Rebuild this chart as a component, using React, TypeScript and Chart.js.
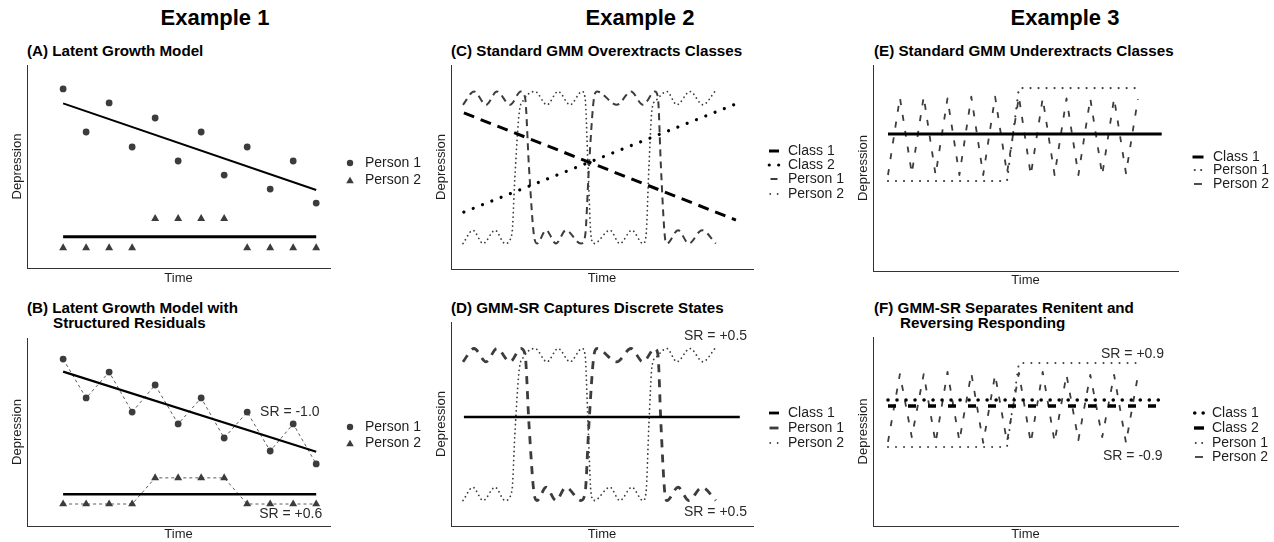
import React, { useEffect, useRef } from "react";
import { Chart, registerables } from "chart.js";

Chart.register(...registerables);

const FONT = '"Liberation Sans", Arial, Helvetica, sans-serif';
Chart.defaults.font.family = FONT;

const INK = "#000000";
const GREY = "#3c3c3c";
const TEXT = "#1e1e1e";
const AXIS = "#333333";

// ---------------- Example 1 data ----------------
const ex1Time = [1, 2, 3, 4, 5, 6, 7, 8, 9, 10, 11, 12];
const ex1TrendTime = [1, 12];
const aPerson1 = [88.2, 67.0, 81.3, 59.6, 73.9, 52.7, 67.0, 45.8, 59.6, 38.9, 52.7, 32.0];
const aPerson2 = [9.9, 9.9, 9.9, 9.9, 24.3, 24.3, 24.3, 24.3, 9.9, 9.9, 9.9, 9.9];
const aTrendP1 = [81.1, 38.4];
const aTrendP2 = [15.4, 15.4];
const bPerson1 = [88.8, 68.1, 81.9, 60.6, 75.0, 54.3, 68.1, 46.8, 60.6, 39.9, 54.3, 33.0];
const bPerson2 = [11.7, 11.7, 11.7, 11.7, 25.6, 25.6, 25.6, 25.6, 11.7, 11.7, 11.7, 11.7];
const bTrendP1 = [82.1, 39.5];
const bTrendP2 = [16.9, 16.9];

// ---------------- Example 2 data ----------------
const ex2P1Time = [4.0, 7.7, 11.7, 15.3, 19.7, 23.3, 24.7, 26.0, 27.7, 28.7, 31.7, 35.0, 38.3, 43.3, 44.7, 46.0, 47.7, 48.7, 55.3, 60.0, 64.0, 68.0, 69.0, 70.0, 71.3, 72.0, 75.7, 79.3, 83.7, 88.3];
const ex2Person1 = [80.5, 87, 80.5, 87, 80.5, 87, 84, 50, 16, 12.5, 19, 12.5, 19, 12.5, 16, 50, 84, 87, 80.5, 87, 80.5, 87, 84, 50, 16, 12.5, 19, 12.5, 19, 12.5];
const ex2P2Time = [4.0, 7.3, 10.7, 14.7, 18.0, 20.3, 21.3, 22.7, 24.3, 28.0, 32.0, 35.7, 39.7, 43.7, 44.7, 45.7, 46.7, 47.7, 53.0, 56.3, 60.3, 64.0, 65.0, 66.0, 67.0, 68.3, 72.0, 75.3, 79.7, 84.0, 88.0];
const ex2Person2 = [12.5, 19, 12.5, 19, 12.5, 17, 45, 76, 83, 87, 80.5, 87, 80.5, 87, 84, 50, 16, 12.5, 19, 12.5, 19, 12.5, 16, 50, 78, 82.5, 87, 80.5, 87, 80.5, 87];
const ex2ClassTimeC = [4.3, 95.0];
const cClass1 = [76.5, 24.0];
const cClass2 = [27.9, 80.9];
const ex2ClassTimeD = [4.3, 96.3];
const dClass1 = [53.4, 53.4];

// ---------------- Example 3 data ----------------
const ex3Time = [1, 2, 3, 4, 5, 6, 7, 8, 9, 10, 11, 12, 13, 14, 15, 16, 17, 18, 19, 20, 21, 22];
const ex3ClassTime = [1, 24];
const ePerson1 = [43.7, 43.7, 43.7, 43.7, 43.7, 43.7, 43.7, 43.7, 43.7, 43.7, 43.7, 88.8, 88.8, 88.8, 88.8, 88.8, 88.8, 88.8, 88.8, 88.8, 88.8, 88.8];
const ePerson2 = [46.6, 84.2, 47.4, 84.6, 46.6, 83.8, 46.6, 84.6, 46.6, 84.6, 47.4, 84.6, 46.6, 83.8, 46.6, 83.8, 46.6, 83.8, 46.6, 83.8, 47.4, 83.4];
const eClass1 = [66.5, 66.5];
const fPerson1 = [41.8, 41.8, 41.8, 41.8, 41.8, 41.8, 41.8, 41.8, 41.8, 41.8, 41.8, 86.2, 86.2, 86.2, 86.2, 86.2, 86.2, 86.2, 86.2, 86.2, 86.2, 86.2];
const fPerson2 = [44.5, 80.4, 47.0, 80.4, 44.0, 81.5, 45.0, 80.9, 44.0, 80.0, 44.5, 81.0, 44.0, 81.5, 44.5, 80.0, 45.5, 80.0, 47.0, 80.0, 44.0, 79.5];
const fClass1 = [66.7, 66.7];
const fClass2 = [63.5, 63.5];

// ---------------- text ----------------
const columnTitles = ["Example 1", "Example 2", "Example 3"];
const srLabels = ["SR = -1.0", "SR = +0.6", "SR = +0.5", "SR = +0.5", "SR = +0.9", "SR = -0.9"];

type LegendItem = {
  label: string;
  kind: "circle" | "triangle" | "line";
  r?: number;
  width?: number;
  dash?: number[];
  cap?: CanvasLineCap;
  len?: number;
  color: string;
};
type Note = { x: number; y: number; text: string };
type PanelSpec = {
  canvas: { left: number; top: number; width: number; height: number };
  area: { left: number; top: number; right: number; bottom: number };
  xRange: [number, number];
  yTitlePad: number;
  xTitlePad: number;
  datasets: any[];
  legend: { symX: number; textX: number; rows: number[]; items: LegendItem[] };
  notes: Note[];
};

const pairs = (xs: number[], ys: number[]) => xs.map((x, i) => ({ x, y: ys[i] }));

function lineSet(label: string, xs: number[], ys: number[], style: any) {
  return {
    label,
    data: pairs(xs, ys),
    showLine: true,
    pointRadius: 0,
    pointHoverRadius: 0,
    fill: false,
    borderJoinStyle: "round",
    ...style,
  };
}

function markerSet(label: string, xs: number[], ys: number[], shape: string, radius: number, connect: boolean) {
  return {
    label,
    data: pairs(xs, ys),
    showLine: connect,
    borderColor: "#5a5a5a",
    borderWidth: 1,
    borderDash: [3, 3],
    pointStyle: shape,
    pointRadius: radius,
    pointHoverRadius: radius,
    pointBackgroundColor: GREY,
    pointBorderColor: GREY,
    pointBorderWidth: 0,
  };
}

const personMarkerLegend: LegendItem[] = [
  { label: "Person 1", kind: "circle", r: 3.2, color: GREY },
  { label: "Person 2", kind: "triangle", r: 4.4, color: GREY },
];

const panels: PanelSpec[] = [
  // (A)
  {
    canvas: { left: 0, top: 55, width: 425, height: 235 },
    area: { left: 27, top: 65, right: 330, bottom: 268 },
    xRange: [-0.57, 12.6],
    yTitlePad: 9.7,
    xTitlePad: 4,
    datasets: [
      lineSet("Person 1 trend", ex1TrendTime, aTrendP1, { borderColor: INK, borderWidth: 2 }),
      lineSet("Person 2 trend", ex1TrendTime, aTrendP2, { borderColor: INK, borderWidth: 3 }),
      markerSet("Person 1", ex1Time, aPerson1, "circle", 3.4, false),
      markerSet("Person 2", ex1Time, aPerson2, "triangle", 4.6, false),
    ],
    legend: { symX: 350, textX: 365, rows: [163, 180], items: personMarkerLegend },
    notes: [],
  },
  // (B)
  {
    canvas: { left: 0, top: 300, width: 425, height: 242 },
    area: { left: 27, top: 338, right: 330, bottom: 526 },
    xRange: [-0.57, 12.6],
    yTitlePad: 9.7,
    xTitlePad: 0,
    datasets: [
      lineSet("Person 1 trend", ex1TrendTime, bTrendP1, { borderColor: INK, borderWidth: 2.2 }),
      lineSet("Person 2 trend", ex1TrendTime, bTrendP2, { borderColor: INK, borderWidth: 2.6 }),
      markerSet("Person 1", ex1Time, bPerson1, "circle", 3.4, true),
      markerSet("Person 2", ex1Time, bPerson2, "triangle", 4.6, true),
    ],
    legend: { symX: 350, textX: 365, rows: [427, 443], items: personMarkerLegend },
    notes: [
      { x: 9.56, y: 60.4, text: srLabels[0] },
      { x: 9.52, y: 6.4, text: srLabels[1] },
    ],
  },
  // (C)
  {
    canvas: { left: 425, top: 55, width: 425, height: 235 },
    area: { left: 451, top: 65, right: 753, bottom: 269 },
    xRange: [0, 100.7],
    yTitlePad: 8.2,
    xTitlePad: 4,
    datasets: [
      lineSet("Class 1", ex2ClassTimeC, cClass1, { borderColor: INK, borderWidth: 3, borderDash: [11, 7] }),
      lineSet("Class 2", ex2ClassTimeC, cClass2, { borderColor: INK, borderWidth: 3.2, borderDash: [0.01, 10], borderCapStyle: "round" }),
      lineSet("Person 1", ex2P1Time, ex2Person1, { borderColor: GREY, borderWidth: 2, borderDash: [7, 5], cubicInterpolationMode: "monotone" }),
      lineSet("Person 2", ex2P2Time, ex2Person2, { borderColor: GREY, borderWidth: 1.8, borderDash: [0.01, 4.5], borderCapStyle: "round", cubicInterpolationMode: "monotone" }),
    ],
    legend: {
      symX: 774,
      textX: 788,
      rows: [151, 165, 179, 194],
      items: [
        { label: "Class 1", kind: "line", width: 3, len: 10, color: INK },
        { label: "Class 2", kind: "line", width: 3.2, len: 9.5, dash: [0.01, 9.4], cap: "round", color: INK },
        { label: "Person 1", kind: "line", width: 2, len: 7, color: GREY },
        { label: "Person 2", kind: "line", width: 1.8, len: 7.5, dash: [0.01, 7.4], cap: "round", color: GREY },
      ],
    },
    notes: [],
  },
  // (D)
  {
    canvas: { left: 425, top: 300, width: 425, height: 242 },
    area: { left: 451, top: 322, right: 753, bottom: 526 },
    xRange: [0, 100.7],
    yTitlePad: 8.2,
    xTitlePad: 0,
    datasets: [
      lineSet("Class 1", ex2ClassTimeD, dClass1, { borderColor: INK, borderWidth: 2.5 }),
      lineSet("Person 1", ex2P1Time, ex2Person1, { borderColor: GREY, borderWidth: 2.8, borderDash: [8, 7], cubicInterpolationMode: "monotone" }),
      lineSet("Person 2", ex2P2Time, ex2Person2, { borderColor: GREY, borderWidth: 1.8, borderDash: [0.01, 4.5], borderCapStyle: "round", cubicInterpolationMode: "monotone" }),
    ],
    legend: {
      symX: 774,
      textX: 788,
      rows: [413, 428, 443],
      items: [
        { label: "Class 1", kind: "line", width: 2.8, len: 10, color: INK },
        { label: "Person 1", kind: "line", width: 2.8, len: 9, color: GREY },
        { label: "Person 2", kind: "line", width: 1.8, len: 7.5, dash: [0.01, 7.4], cap: "round", color: GREY },
      ],
    },
    notes: [
      { x: 77.7, y: 93.1, text: srLabels[2] },
      { x: 77.7, y: 6.9, text: srLabels[3] },
    ],
  },
  // (E)
  {
    canvas: { left: 850, top: 55, width: 424, height: 235 },
    area: { left: 873, top: 65, right: 1178, bottom: 271 },
    xRange: [-0.26, 25.37],
    yTitlePad: 5.2,
    xTitlePad: 2,
    datasets: [
      lineSet("Class 1", ex3ClassTime, eClass1, { borderColor: INK, borderWidth: 3 }),
      lineSet("Person 1", ex3Time, ePerson1, { borderColor: GREY, borderWidth: 2.2, borderDash: [0.01, 8], borderCapStyle: "round" }),
      lineSet("Person 2", ex3Time, ePerson2, { borderColor: GREY, borderWidth: 1.8, borderDash: [6, 10] }),
    ],
    legend: {
      symX: 1198,
      textX: 1213,
      rows: [157, 170, 184],
      items: [
        { label: "Class 1", kind: "line", width: 3, len: 11, color: INK },
        { label: "Person 1", kind: "line", width: 2.2, len: 6.5, dash: [0.01, 6.4], cap: "round", color: GREY },
        { label: "Person 2", kind: "line", width: 1.8, len: 8, color: GREY },
      ],
    },
    notes: [],
  },
  // (F)
  {
    canvas: { left: 850, top: 300, width: 424, height: 242 },
    area: { left: 873, top: 337, right: 1178, bottom: 526 },
    xRange: [-0.26, 25.37],
    yTitlePad: 5.2,
    xTitlePad: 0,
    datasets: [
      lineSet("Class 1", ex3ClassTime, fClass1, { borderColor: INK, borderWidth: 3.6, borderDash: [0.01, 9], borderCapStyle: "round" }),
      lineSet("Class 2", ex3ClassTime, fClass2, { borderColor: INK, borderWidth: 3.6, borderDash: [8, 12] }),
      lineSet("Person 1", ex3Time, fPerson1, { borderColor: GREY, borderWidth: 2, borderDash: [0.01, 8], borderCapStyle: "round" }),
      lineSet("Person 2", ex3Time, fPerson2, { borderColor: GREY, borderWidth: 1.8, borderDash: [6, 10] }),
    ],
    legend: {
      symX: 1199,
      textX: 1212,
      rows: [413, 428, 443, 457],
      items: [
        { label: "Class 1", kind: "line", width: 3.6, len: 8.5, dash: [0.01, 8.4], cap: "round", color: INK },
        { label: "Class 2", kind: "line", width: 3.4, len: 10, color: INK },
        { label: "Person 1", kind: "line", width: 2, len: 6.5, dash: [0.01, 6.4], cap: "round", color: GREY },
        { label: "Person 2", kind: "line", width: 1.8, len: 8, color: GREY },
      ],
    },
    notes: [
      { x: 18.9, y: 91.0, text: srLabels[4] },
      { x: 19.07, y: 36.8, text: srLabels[5] },
    ],
  },
];

function legendPlugin(p: PanelSpec) {
  return {
    id: "sketchLegend",
    afterDraw(chart: any) {
      const ctx: CanvasRenderingContext2D = chart.ctx;
      const { legend, canvas } = p;
      ctx.save();
      legend.items.forEach((it, i) => {
        const y = legend.rows[i] - canvas.top;
        const cx = legend.symX - canvas.left;
        ctx.fillStyle = it.color;
        ctx.strokeStyle = it.color;
        if (it.kind === "circle") {
          ctx.beginPath();
          ctx.arc(cx, y, it.r || 3, 0, Math.PI * 2);
          ctx.fill();
        } else if (it.kind === "triangle") {
          const r = it.r || 4;
          ctx.beginPath();
          ctx.moveTo(cx, y - r * 0.75);
          ctx.lineTo(cx + r * 0.866, y + r * 0.75);
          ctx.lineTo(cx - r * 0.866, y + r * 0.75);
          ctx.closePath();
          ctx.fill();
        } else {
          const len = it.len || 10;
          ctx.lineWidth = it.width || 1;
          ctx.setLineDash(it.dash || []);
          ctx.lineCap = it.cap || "butt";
          ctx.beginPath();
          ctx.moveTo(cx - len / 2, y);
          ctx.lineTo(cx + len / 2, y);
          ctx.stroke();
          ctx.setLineDash([]);
        }
        ctx.fillStyle = TEXT;
        ctx.font = `14px ${FONT}`;
        ctx.textBaseline = "middle";
        ctx.textAlign = "left";
        ctx.fillText(it.label, legend.textX - canvas.left, y);
      });
      ctx.restore();
    },
  };
}

function notesPlugin(p: PanelSpec) {
  return {
    id: "sketchNotes",
    afterDatasetsDraw(chart: any) {
      const ctx: CanvasRenderingContext2D = chart.ctx;
      const xs = chart.scales.x;
      const ys = chart.scales.y;
      ctx.save();
      ctx.fillStyle = "#2a2a2a";
      ctx.font = `14px ${FONT}`;
      ctx.textBaseline = "middle";
      ctx.textAlign = "left";
      p.notes.forEach((n) => {
        ctx.fillText(n.text, xs.getPixelForValue(n.x), ys.getPixelForValue(n.y));
      });
      ctx.restore();
    },
  };
}

function buildConfig(p: PanelSpec): any {
  const c = p.canvas;
  const a = p.area;
  const wy = a.left - c.left;
  const padTop = a.top - c.top;
  const padRight = c.left + c.width - a.right;
  const hx = c.top + c.height - a.bottom;
  const axisFont = { family: FONT, size: 13, lineHeight: 1.2 };
  return {
    type: "scatter",
    data: { datasets: p.datasets },
    options: {
      responsive: false,
      animation: false,
      events: [],
      layout: { padding: { left: 0, top: padTop, right: padRight, bottom: 0 } },
      plugins: { legend: { display: false }, tooltip: { enabled: false }, title: { display: false } },
      scales: {
        x: {
          type: "linear",
          min: p.xRange[0],
          max: p.xRange[1],
          ticks: { display: false },
          grid: { display: false, drawTicks: false },
          border: { display: true, color: AXIS, width: 1 },
          title: { display: true, text: "Time", color: TEXT, font: axisFont, padding: { top: 0, bottom: p.xTitlePad } },
          afterFit: (s: any) => {
            s.height = hx;
          },
        },
        y: {
          type: "linear",
          min: 0,
          max: 100,
          ticks: { display: false },
          grid: { display: false, drawTicks: false },
          border: { display: true, color: AXIS, width: 1 },
          title: { display: true, text: "Depression", color: TEXT, font: axisFont, padding: { top: p.yTitlePad, bottom: 0 } },
          afterFit: (s: any) => {
            s.width = wy;
          },
        },
      },
    },
    plugins: [legendPlugin(p), notesPlugin(p)],
  };
}

function Panel({ spec }: { spec: PanelSpec }) {
  const ref = useRef<HTMLCanvasElement>(null);
  useEffect(() => {
    if (!ref.current) return;
    const chart = new Chart(ref.current, buildConfig(spec));
    return () => chart.destroy();
  }, [spec]);
  const c = spec.canvas;
  return (
    <div style={{ position: "absolute", left: c.left, top: c.top, width: c.width, height: c.height }}>
      <canvas ref={ref} width={c.width} height={c.height} style={{ display: "block" }} />
    </div>
  );
}

const panelTitles: { text: string; left: number; top: number }[] = [
  { text: "(A) Latent Growth Model", left: 27, top: 43 },
  { text: "(B) Latent Growth Model with", left: 27, top: 300 },
  { text: "Structured Residuals", left: 53, top: 315 },
  { text: "(C) Standard GMM Overextracts Classes", left: 451, top: 43 },
  { text: "(D) GMM-SR Captures Discrete States", left: 451, top: 300 },
  { text: "(E) Standard GMM Underextracts Classes", left: 874, top: 43 },
  { text: "(F) GMM-SR Separates Renitent and", left: 874, top: 300 },
  { text: "Reversing Responding", left: 900, top: 315 },
];

const columnCenters = [215, 640, 1065];

export default function App() {
  return (
    <div
      style={{
        position: "absolute",
        left: 0,
        top: 0,
        width: 1274,
        height: 542,
        background: "#ffffff",
        overflow: "hidden",
        fontFamily: FONT,
      }}
    >
      {columnTitles.map((t, i) => (
        <div
          key={t}
          style={{
            position: "absolute",
            left: columnCenters[i] - 120,
            width: 240,
            top: 7,
            textAlign: "center",
            font: `bold 22px ${FONT}`,
            lineHeight: "22px",
            color: "#000",
            whiteSpace: "nowrap",
          }}
        >
          {t}
        </div>
      ))}
      {panelTitles.map((t) => (
        <div
          key={t.text}
          style={{
            position: "absolute",
            left: t.left,
            top: t.top,
            font: `bold 15.2px ${FONT}`,
            lineHeight: "15px",
            color: "#000",
            whiteSpace: "nowrap",
          }}
        >
          {t.text}
        </div>
      ))}
      {panels.map((p, i) => (
        <Panel key={i} spec={p} />
      ))}
    </div>
  );
}
